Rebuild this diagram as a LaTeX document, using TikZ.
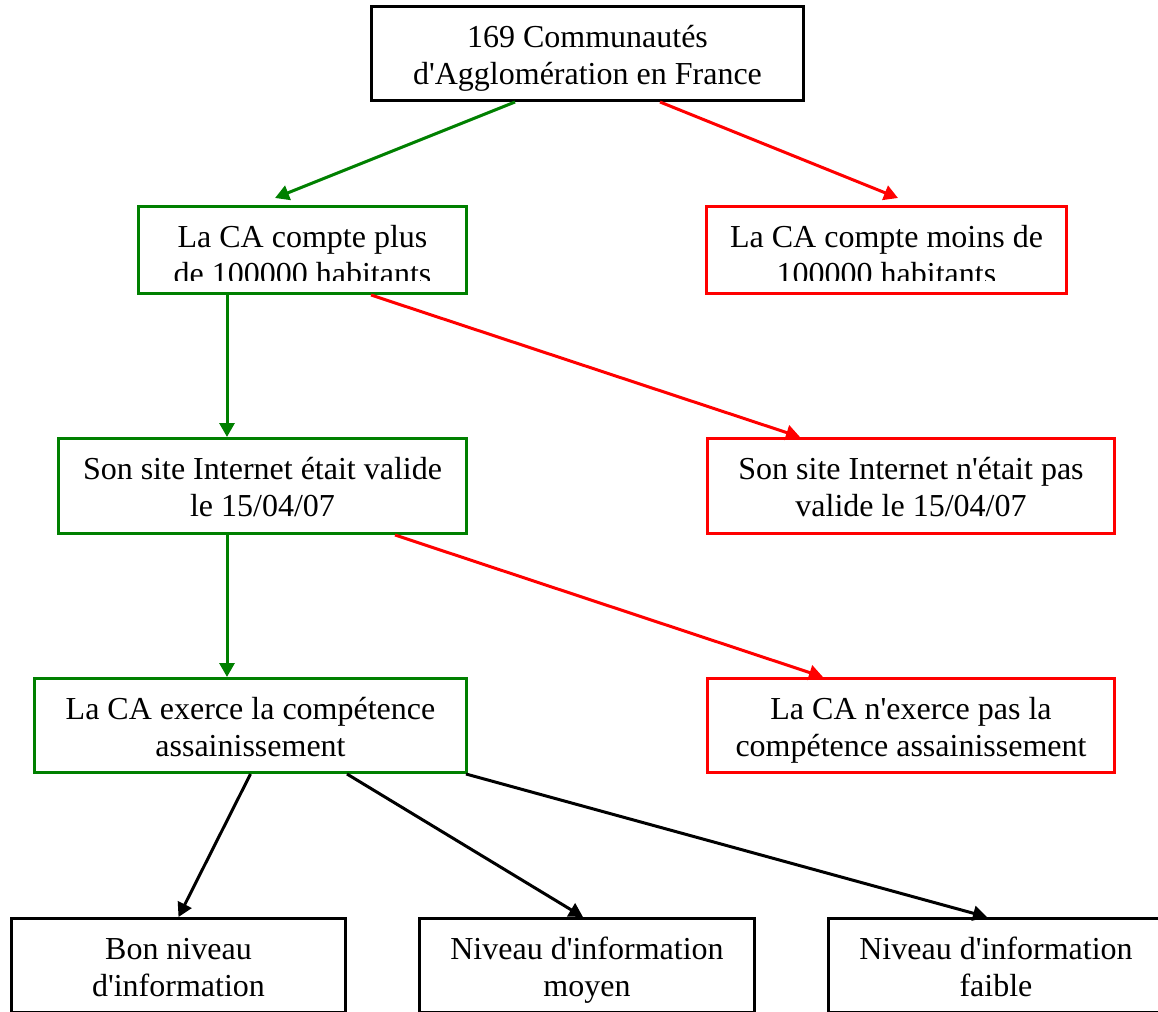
\documentclass[tikz,border=0pt]{standalone}
\usepackage{fontspec}
\setmainfont{Liberation Serif}
\usetikzlibrary{arrows.meta,positioning}
\definecolor{cagreen}{RGB}{0,128,0}
\definecolor{cared}{RGB}{255,0,0}
\newcommand{\apos}{\textquotesingle}
\begin{document}
\begin{tikzpicture}[x=1pt,y=-1pt,
    box/.style={draw=#1, line width=3pt, rectangle, inner sep=0pt},
    box/.default=black,
    txt/.style={align=center, inner sep=0pt, font=\fontsize{32}{37}\selectfont},
    link/.style={draw=#1, line width=3pt, -{Triangle[length=14pt,width=15pt]}},
    link/.default=black]
    \clip (0,0) rectangle (1158,1011);

    \node[box, minimum width=432pt, minimum height=94pt] (top) at (587.5,53.5) {};
    \node[txt, below=17pt of top.north] (topt) {\rule{0pt}{25pt}169 Communautés\\d\apos Agglomération en France};

    \node[box=cagreen, minimum width=328pt, minimum height=87pt] (plus) at (302.5,250) {};
    \node[box=cared, minimum width=360pt, minimum height=87pt] (moins) at (886.5,250) {};
    \begin{scope}
        \clip (plus.north west) rectangle ([yshift=14.5pt]moins.south east);
        \node[txt, below=17pt of plus.north] (plust) {\rule{0pt}{25pt}La CA compte plus\\de 100000 habitants};
        \node[txt, below=17pt of moins.north] (moinst) {\rule{0pt}{25pt}La CA compte moins de\\100000 habitants};
    \end{scope}

    \node[box=cagreen, minimum width=408pt, minimum height=95pt] (site) at (262.5,486) {};
    \node[txt, below=17pt of site.north] (sitet) {\rule{0pt}{25pt}Son site Internet était valide\\le 15/04/07};
    \node[box=cared, minimum width=407pt, minimum height=95pt] (nosite) at (911,486) {};
    \node[txt, below=17pt of nosite.north] (nositet) {\rule{0pt}{25pt}Son site Internet n\apos était pas\\valide le 15/04/07};

    \node[box=cagreen, minimum width=432pt, minimum height=94pt] (comp) at (250.5,725.5) {};
    \node[txt, below=17pt of comp.north] (compt) {\rule{0pt}{25pt}La CA exerce la compétence\\assainissement};
    \node[box=cared, minimum width=407pt, minimum height=94pt] (nocomp) at (911,725.5) {};
    \node[txt, below=17pt of nocomp.north] (nocompt) {\rule{0pt}{25pt}La CA n\apos exerce pas la\\compétence assainissement};

    \node[box, minimum width=334pt, minimum height=94pt] (bon) at (178.5,965.5) {};
    \node[txt, below=17pt of bon.north] (bont) {\rule{0pt}{25pt}Bon niveau\\d\apos information};
    \node[box, minimum width=335pt, minimum height=94pt] (moyen) at (587,965.5) {};
    \node[txt, below=17pt of moyen.north] (moyent) {\rule{0pt}{25pt}Niveau d\apos information\\moyen};
    \node[box, minimum width=335pt, minimum height=94pt] (faible) at (996,965.5) {};
    \node[txt, below=17pt of faible.north] (faiblet) {\rule{0pt}{25pt}Niveau d\apos information\\faible};

    \draw[link=cagreen] ([xshift=-72.5pt]top.south) -- ([xshift=-27.5pt,yshift=7pt]plus.north);
    \draw[link=cared] ([xshift=72.5pt]top.south) -- ([xshift=11.5pt,yshift=7pt]moins.north);
    \draw[link=cagreen] ([xshift=-75.5pt]plus.south) -- ([xshift=-35.5pt]site.north);
    \draw[link=cared] ([xshift=68.5pt]plus.south) -- ([xshift=-111pt]nosite.north);
    \draw[link=cagreen] ([xshift=-35.5pt]site.south) -- ([xshift=-23.5pt]comp.north);
    \draw[link=cared] ([xshift=132.5pt]site.south) -- ([xshift=-88pt]nocomp.north);
    \draw[link] (comp.south) -- (bon.north);
    \draw[link] ([xshift=96.5pt]comp.south) -- ([xshift=-4pt]moyen.north);
    \draw[link] ([xshift=215.5pt]comp.south) -- ([xshift=-9pt]faible.north);
\end{tikzpicture}
\end{document}
